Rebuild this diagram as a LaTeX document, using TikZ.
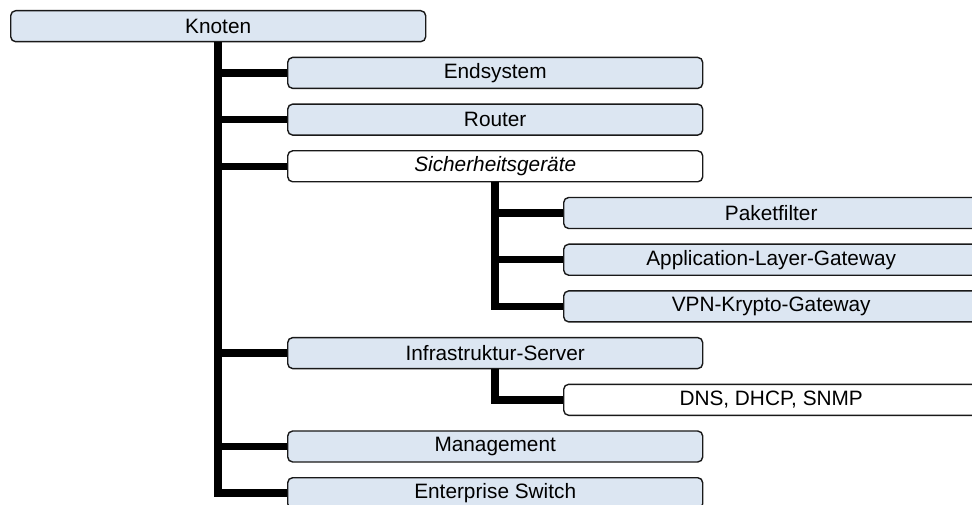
\documentclass[tikz,border=0pt]{standalone}
\usepackage{fontspec}
\setmainfont{Liberation Sans}
\definecolor{boxblue}{RGB}{220,230,242}
\definecolor{boxline}{RGB}{25,25,25}
\begin{document}
\begin{tikzpicture}[x=1pt,y=-1pt,
  box/.style={draw=boxline, line width=1.4pt, rounded corners=5pt,
    minimum width=415pt, minimum height=31pt, inner sep=0pt,
    font=\fontsize{20.8}{24}\selectfont, fill=boxblue, anchor=north west},
  plainbox/.style={box, fill=white},
  link/.style={line width=7.5pt, draw=black}]
\useasboundingbox (0,0) rectangle (972,505);
\clip (0,0) rectangle (972,505);
\node[box] (k) at (10,10) {Knoten};
\node[box] (e) at (287,56.7) {Endsystem};
\node[box] (r) at (287,103.4) {Router};
\node[plainbox] (s) at (287,150.1) {\itshape Sicherheitsgeräte};
\node[box] (p) at (563,196.8) {Paketfilter};
\node[box] (a) at (563,243.5) {Application-Layer-Gateway};
\node[box] (v) at (563,290.2) {VPN-Krypto-Gateway};
\node[box] (i) at (287,336.9) {Infrastruktur-Server};
\node[plainbox] (d) at (563,383.6) {DNS, DHCP, SNMP};
\node[box] (m) at (287,430.3) {Management};
\node[box] (es) at (287,477) {Enterprise Switch};
\foreach \c in {e,r,s,i,m,es} \draw[link] (k.south) |- (\c.west);
\foreach \c in {p,a,v} \draw[link] (s.south) |- (\c.west);
\draw[link] (i.south) |- (d.west);
\end{tikzpicture}
\end{document}
